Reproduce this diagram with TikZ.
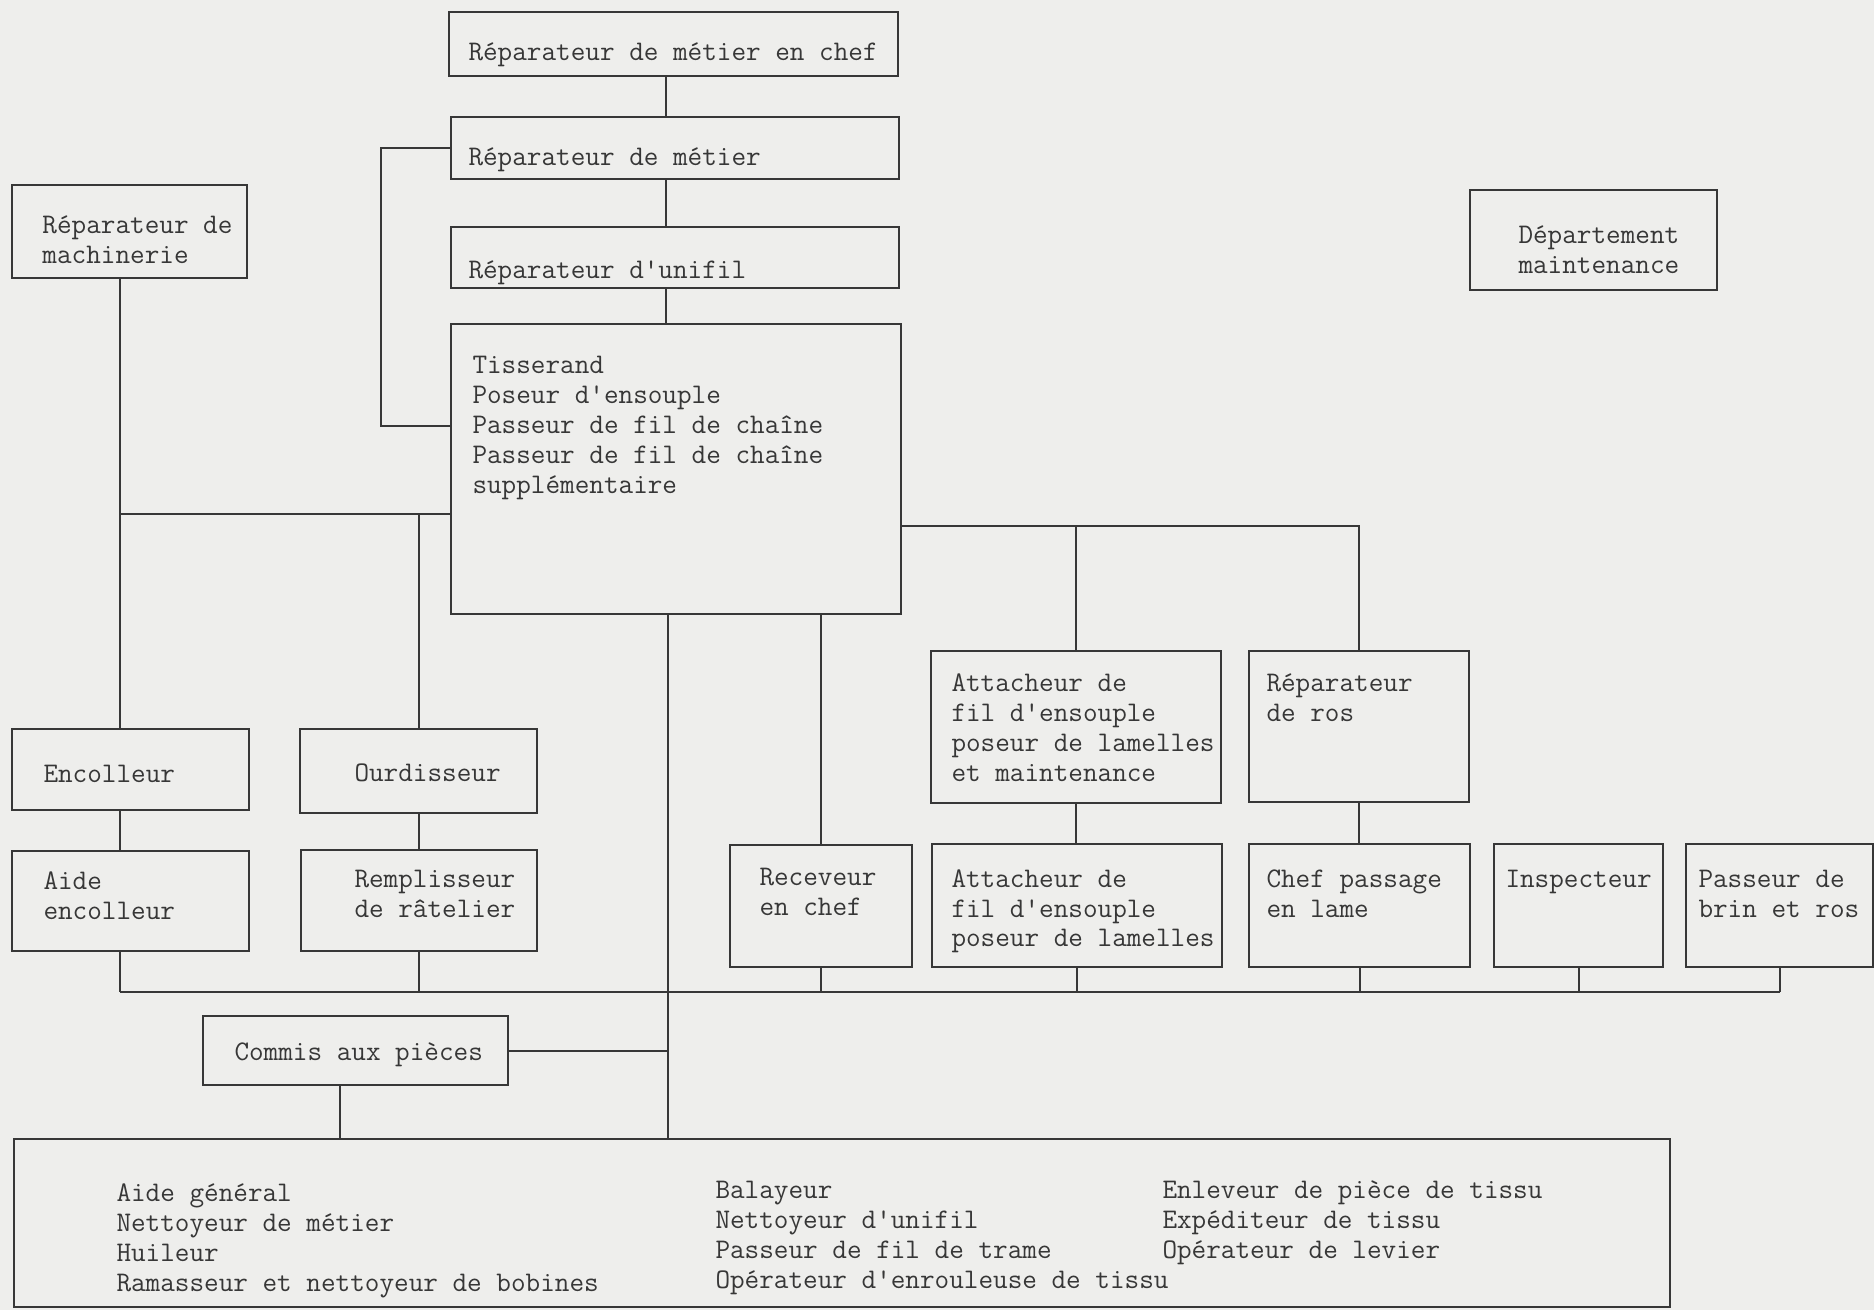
\documentclass[tikz,border=0pt]{standalone}
\usepackage{tikz}
\usetikzlibrary{fit,calc}
\definecolor{paper}{RGB}{238,238,236}
\definecolor{ink}{RGB}{55,55,55}

\begin{document}
\begin{tikzpicture}[x=0.4pt,y=-0.4pt]
\tikzset{
	box/.style = {draw=ink, line width=0.8pt, inner sep=0, fit={#1}},
	txt/.style = {anchor=base west, inner sep=0, align=left, text=ink, yshift=-1.6pt,
		font=\ttfamily\fontsize{11.35}{12}\selectfont},
	link/.style = {draw=ink, line width=0.8pt},
}
\fill[paper] (0,0) rectangle (1874,1310);
\useasboundingbox (0,0) rectangle (1874,1310);

% chain of command (text nodes sit on the baseline of their last line)
\node[box={(449,12) (898,76)}] (chef) {};
\node[txt] (chef-t) at (468,57) {Réparateur de métier en chef};
\node[box={(451,117) (899,179)}] (rep) {};
\node[txt] (rep-t) at (468,162) {Réparateur de métier};
\node[box={(451,227) (899,288)}] (unif) {};
\node[txt] (unif-t) at (468,275) {Réparateur d'unifil};
\node[box={(451,324) (901,614)}] (tis) {};
\node[txt] (tis-t) at (472,490) {Tisserand\\Poseur d'ensouple\\Passeur de fil de chaîne\\Passeur de fil de chaîne\\supplémentaire};

\node[box={(12,185) (247,278)}] (mach) {};
\node[txt] (mach-t) at (42,260) {Réparateur de\\machinerie};
\node[box={(1470,190) (1717,290)}] (dept) {};
\node[txt] (dept-t) at (1518,270) {Département\\maintenance};

% left side
\node[box={(12,729) (249,810)}] (enc) {};
\node[txt] (enc-t) at (43,779) {Encolleur};
\node[box={(12,851) (249,951)}] (aide) {};
\node[txt] (aide-t) at (43,915) {Aide\\encolleur};
\node[box={(300,729) (537,813)}] (ourd) {};
\node[txt] (ourd-t) at (354,778) {Ourdisseur};
\node[box={(301,850) (537,951)}] (rempl) {};
\node[txt] (rempl-t) at (354,914) {Remplisseur\\de râtelier};
\node[box={(203,1016) (508,1085)}] (commis) {};
\node[txt] (commis-t) at (234,1056) {Commis aux pièces};

% right side
\node[box={(730,845) (912,967)}] (recev) {};
\node[txt] (recev-t) at (759,912) {Receveur\\en chef};
\node[box={(931,651) (1221,803)}] (att1) {};
\node[txt] (att1-t) at (951,778) {Attacheur de\\fil d'ensouple\\poseur de lamelles\\et maintenance};
\node[box={(1249,651) (1469,802)}] (ros) {};
\node[txt] (ros-t) at (1266,718) {Réparateur\\de ros};
\node[box={(932,844) (1222,967)}] (att2) {};
\node[txt] (att2-t) at (951,943) {Attacheur de\\fil d'ensouple\\poseur de lamelles};
\node[box={(1249,844) (1470,967)}] (passage) {};
\node[txt] (passage-t) at (1266,913) {Chef passage\\en lame};
\node[box={(1494,844) (1663,967)}] (insp) {};
\node[txt] (insp-t) at (1505,883) {Inspecteur};
\node[box={(1686,844) (1873,967)}] (brin) {};
\node[txt] (brin-t) at (1698,913) {Passeur de\\brin et ros};

% general staff
\node[box={(14,1139) (1670,1307)}] (gen) {};
\node[txt] (gen-a) at (116,1287) {Aide général\\Nettoyeur de métier\\Huileur\\Ramasseur et nettoyeur de bobines};
\node[txt] (gen-b) at (715,1284) {Balayeur\\Nettoyeur d'unifil\\Passeur de fil de trame\\Opérateur d'enrouleuse de tissu};
\node[txt] (gen-c) at (1162,1254) {Enleveur de pièce de tissu\\Expéditeur de tissu\\Opérateur de levier};

% connectors
\coordinate (ax) at ($(chef.south)+(-8,0)$);
\draw[link] (ax) -- (ax |- rep.north);
\draw[link] (ax |- rep.south) -- (ax |- unif.north);
\draw[link] (ax |- unif.south) -- (ax |- tis.north);
\draw[link] (rep.west) -- ++(-69,0) |- ($(tis.north west)+(0,103)$);

\coordinate (mx) at ($(mach.south)+(-10,0)$);
\coordinate (lj) at ($(tis.north west)+(0,191)$);
\draw[link] (lj) -- (lj -| mx);
\draw[link] (mx) -- (mx |- enc.north);
\draw[link] (lj -| ourd.north) -- (ourd.north);
\draw[link] (mx |- enc.south) -- (mx |- aide.north);
\draw[link] (ourd.south) -- (ourd.south |- rempl.north);

\coordinate (rj) at ($(tis.north east)+(0,203)$);
\draw[link] (rj) -| (ros.north);
\draw[link] (rj -| att1.north) -- (att1.north);
\draw[link] (att1.south) -- (att1.south |- att2.north);
\draw[link] (ros.south) -- (ros.south |- passage.north);
\draw[link] (tis.south -| recev.north) -- (recev.north);

\coordinate (bus) at (0,992);
\draw[link] (bus -| mx) -- (bus -| brin.south);
\draw[link] (mx |- aide.south) -- (mx |- bus);
\foreach \n in {rempl,recev,att2,passage,insp,brin}
	\draw[link] (\n.south) -- (\n.south |- bus);

\coordinate (sp) at ($(tis.south west)+(218,0)$);
\draw[link] (sp) -- (sp |- gen.north);
\draw[link] (commis.east) -- (commis.east -| sp);
\coordinate (cm) at ($(commis.south)+(-16,0)$);
\draw[link] (cm) -- (cm |- gen.north);

\end{tikzpicture}
\end{document}
